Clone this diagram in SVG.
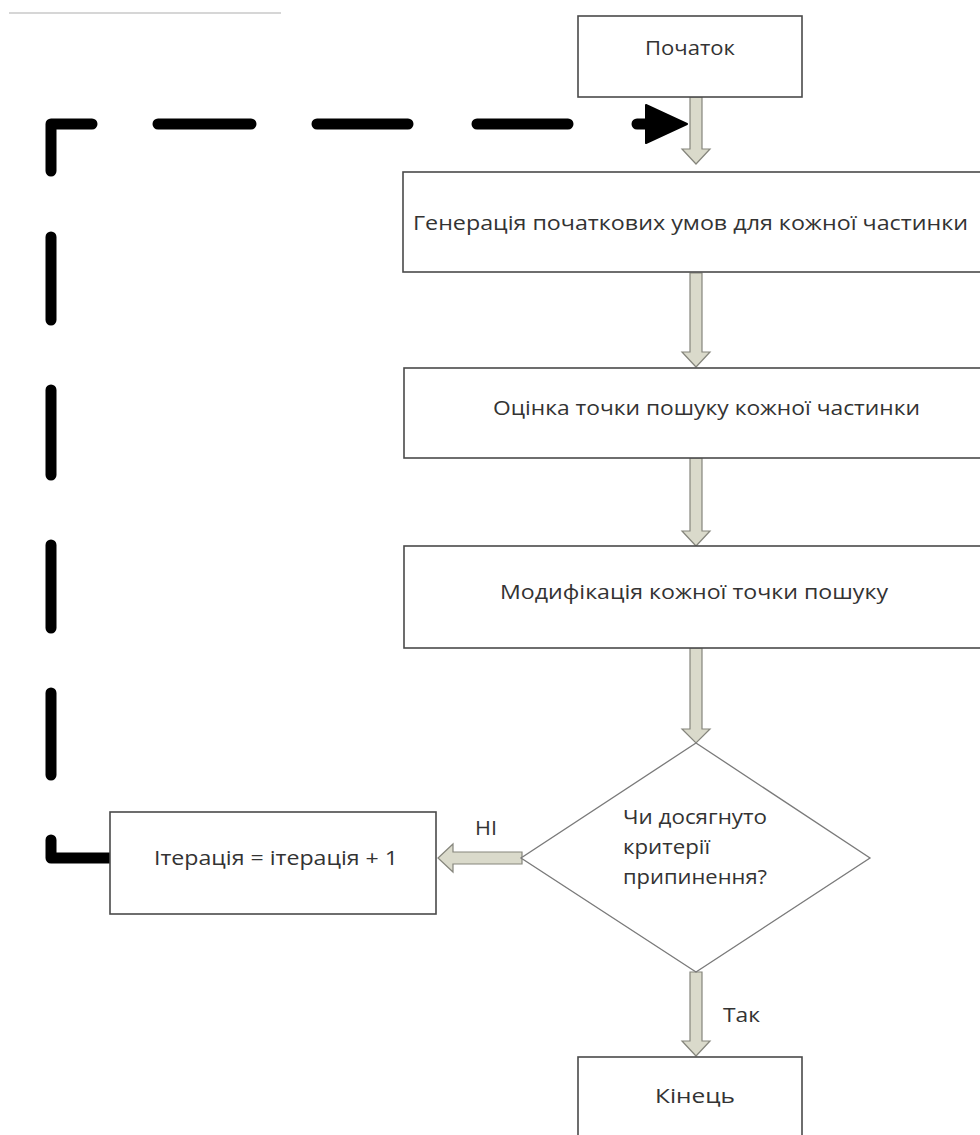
<svg xmlns="http://www.w3.org/2000/svg" width="980" height="1135" viewBox="0 0 980 1135">
  <style>
    .box { fill: #ffffff; stroke: #4a4a4a; stroke-width: 1.6; }
    .decision { fill: #ffffff; stroke: #7a7a7a; stroke-width: 1.3; }
    .label { font-family: "Open Sans", "Noto Sans", "DejaVu Sans", sans-serif; font-size: 20px; fill: #333333; }
    .flow { fill: #dadacb; stroke: #85857c; stroke-width: 1.2; stroke-linejoin: miter; }
    .loop { fill: none; stroke: #000000; stroke-width: 11; stroke-linecap: round; stroke-linejoin: round; }
    .loop-head { fill: #000000; stroke: #000000; stroke-width: 2; stroke-linejoin: round; }
  </style>

  <rect width="980" height="1135" fill="#ffffff"/>

  <!-- thin rule at the top left -->
  <line x1="9" y1="13" x2="281" y2="13" stroke="#d6d6d6" stroke-width="2"/>

  <!-- connectors -->
  <g id="connectors">
    <!-- hollow block arrows of the main flow -->
    <polygon class="flow" points="690,97 702,97 702,149 710,149 696,164 682,149 690,149"/>
    <polygon class="flow" points="690,273 702,273 702,352 710,352 696,367 682,352 690,352"/>
    <polygon class="flow" points="690,458 702,458 702,531 710,531 696,546 682,531 690,531"/>
    <polygon class="flow" points="690,648 702,648 702,729 710,729 696,743 682,729 690,729"/>
    <polygon class="flow" points="690,972 702,972 702,1041 710,1041 696,1056 682,1041 690,1041"/>
    <!-- "НІ" branch to the iteration step -->
    <polygon class="flow" points="522,852 522,864 453,864 453,872 438,858 453,844 453,852"/>

    <!-- dashed return loop back to the start of the cycle -->
    <path class="loop" d="M110,858 H51 V840
                          M51,775 V693
                          M51,628 V545
                          M51,475 V390
                          M51,320 V237
                          M51,171 V124 H92
                          M158,124 H251
                          M317,124 H408
                          M477,124 H568
                          M637,124 H650"/>
    <polygon class="loop-head" points="646,105 687,124 646,143"/>

    <text class="label" x="475" y="835" textLength="22" lengthAdjust="spacingAndGlyphs">НІ</text>
    <text class="label" x="723" y="1022" textLength="37" lengthAdjust="spacingAndGlyphs">Так</text>
  </g>

  <g id="start">
    <rect class="box" x="578" y="16" width="224" height="81"/>
    <text class="label" x="645" y="55" textLength="90" lengthAdjust="spacingAndGlyphs">Початок</text>
  </g>

  <g id="init">
    <rect class="box" x="403" y="172" width="590" height="100"/>
    <text class="label" x="413" y="230" textLength="555" lengthAdjust="spacingAndGlyphs">Генерація початкових умов для кожної частинки</text>
  </g>

  <g id="evaluate">
    <rect class="box" x="404" y="368" width="590" height="90"/>
    <text class="label" x="493" y="415" textLength="427" lengthAdjust="spacingAndGlyphs">Оцінка точки пошуку кожної частинки</text>
  </g>

  <g id="modify">
    <rect class="box" x="404" y="546" width="590" height="102"/>
    <text class="label" x="500" y="599" textLength="388" lengthAdjust="spacingAndGlyphs">Модифікація кожної точки пошуку</text>
  </g>

  <g id="check">
    <polygon class="decision" points="696,743 870,858 696,972 521,858"/>
    <text class="label" x="623" y="824" textLength="144" lengthAdjust="spacingAndGlyphs">Чи досягнуто</text>
    <text class="label" x="623" y="854" textLength="87" lengthAdjust="spacingAndGlyphs">критерії</text>
    <text class="label" x="623" y="884" textLength="144" lengthAdjust="spacingAndGlyphs">припинення?</text>
  </g>

  <g id="iteration">
    <rect class="box" x="110" y="812" width="326" height="102"/>
    <text class="label" x="154" y="865" textLength="244" lengthAdjust="spacingAndGlyphs">Ітерація = ітерація + 1</text>
  </g>

  <g id="end">
    <rect class="box" x="578" y="1057" width="224" height="90"/>
    <text class="label" x="655" y="1103" textLength="80" lengthAdjust="spacingAndGlyphs">Кінець</text>
  </g>
</svg>
